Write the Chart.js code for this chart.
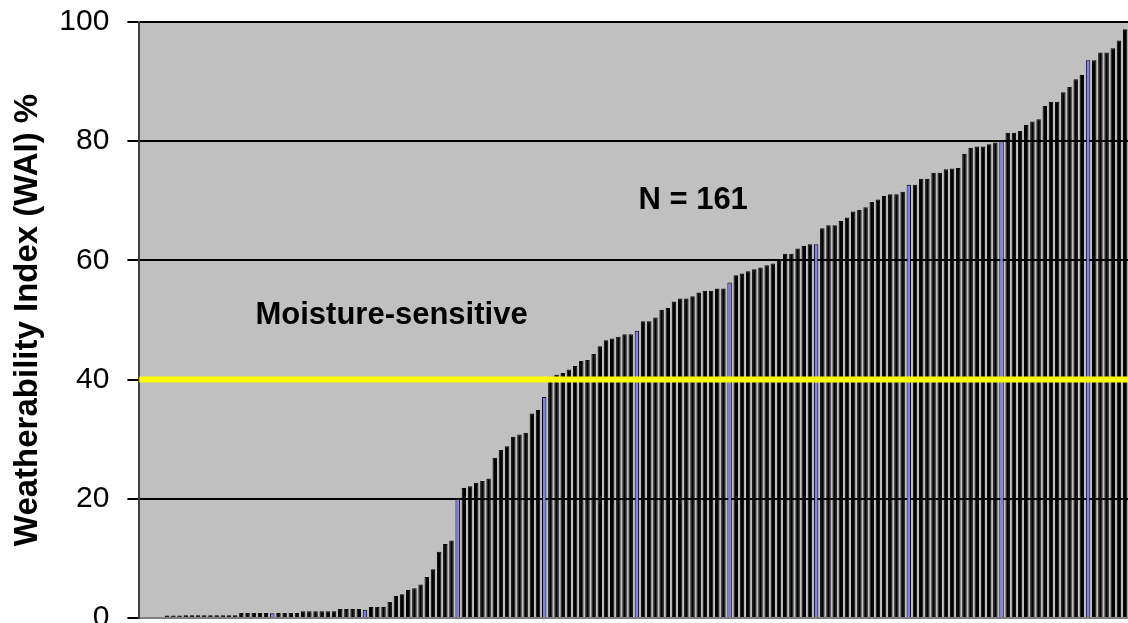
<!DOCTYPE html>
<html>
<head>
<meta charset="utf-8">
<script src="https://cdn.jsdelivr.net/npm/chart.js@4/dist/chart.umd.min.js"></script>
<style>
  html, body { margin: 0; padding: 0; background: #fff; overflow: hidden; }
  #wrap { width: 1128px; height: 623px; overflow: hidden; position: relative; }
  #waiChart { display: block; position: absolute; left: 0; top: -14px; }
</style>
</head>
<body>
<div id="wrap"><canvas id="waiChart" width="1140" height="668"></canvas></div>
<script>
// WAI values, sorted ascending (161 samples)
const wai = [
    0, 0, 0, 0, 0.4, 0.4, 0.4, 0.45, 0.45, 0.45,
    0.45, 0.45, 0.45, 0.45, 0.45, 0.45, 0.85, 0.85, 0.85, 0.85,
    0.85, 0.8, 0.85, 0.85, 0.85, 0.85, 1.15, 1.15, 1.15, 1.15,
    1.15, 1.15, 1.5, 1.5, 1.5, 1.5, 1.4, 1.85, 1.85, 1.85,
    2.7, 3.7, 4.0, 4.7, 5.0, 5.6, 6.9, 8.2, 11.1, 12.4,
    13.0, 20.0, 21.8, 22.1, 22.7, 23.0, 23.4, 26.9, 28.2, 28.8,
    30.4, 30.8, 31.1, 34.3, 34.9, 37.1, 39.7, 40.8, 41.1, 41.7,
    42.3, 43.1, 43.3, 44.3, 45.6, 46.6, 46.9, 47.2, 47.6, 47.6,
    48.2, 49.8, 49.8, 50.4, 51.7, 52.0, 53.1, 53.6, 53.6, 54.0,
    54.6, 54.9, 54.9, 55.3, 55.3, 56.3, 57.5, 57.8, 58.2, 58.5,
    58.8, 59.2, 59.5, 60.1, 61.1, 61.1, 62.0, 62.4, 62.7, 62.7,
    65.4, 65.9, 65.9, 66.6, 67.2, 68.2, 68.5, 68.9, 69.8, 70.2,
    70.8, 71.1, 71.1, 71.5, 72.7, 72.7, 73.7, 73.7, 74.7, 74.7,
    75.3, 75.4, 75.5, 77.9, 78.9, 79.1, 79.1, 79.5, 79.8, 80.0,
    81.4, 81.4, 81.7, 82.7, 83.3, 83.7, 85.9, 86.6, 86.6, 88.2,
    89.1, 90.4, 91.1, 93.6, 93.6, 94.9, 94.9, 95.6, 96.9, 98.8,
    99.6
];
const samples = wai.map((v, i) => String(i + 1));
// samples drawn in blue
const highlighted = [21, 36, 51, 65, 80, 95, 109, 124, 139, 153];
const threshold = 40;
const noteTexts = ['Moisture-sensitive', 'N = 161'];
const axisTitle = 'Weatherability Index (WAI) %';

const FONT = '"Liberation Sans", Arial, sans-serif';

const plotExtras = {
    id: 'plotExtras',
    beforeDraw(chart) {
        const { ctx, chartArea: a } = chart;
        ctx.save();
        ctx.fillStyle = '#c0c0c0';
        ctx.fillRect(a.left, a.top, a.right - a.left, a.bottom - a.top);
        ctx.restore();
    },
    afterDatasetsDraw(chart) {
        const { ctx, chartArea: a, scales: { x, y } } = chart;
        // moisture-sensitive limit
        const yy = y.getPixelForValue(threshold);
        ctx.save();
        ctx.strokeStyle = '#ffff00';
        ctx.lineWidth = 6;
        ctx.beginPath();
        ctx.moveTo(a.left, yy);
        ctx.lineTo(a.right, yy);
        ctx.stroke();

        // text notes, placed in data coordinates (category index, value)
        const places = [[40.3, 50.7], [89.1, 70.1]];
        ctx.fillStyle = '#000';
        ctx.font = 'bold 31px ' + FONT;
        ctx.textAlign = 'center';
        ctx.textBaseline = 'middle';
        noteTexts.forEach((t, k) => {
            ctx.fillText(t, x.getPixelForValue(places[k][0]), y.getPixelForValue(places[k][1]));
        });
        ctx.restore();
    }
};

const ctx = document.getElementById('waiChart').getContext('2d');
new Chart(ctx, {
    type: 'bar',
    data: {
        labels: samples,
        datasets: [{
            data: wai,
            backgroundColor: wai.map((v, i) => highlighted.includes(i) ? '#8080f0' : '#000000'),
            borderColor: '#000000',
            borderWidth: 1,
            barPercentage: 0.72,
            categoryPercentage: 1
        }]
    },
    options: {
        responsive: false,
        animation: false,
        layout: { padding: { top: 0, right: 5.6, bottom: 0, left: 0 } },
        plugins: {
            legend: { display: false },
            tooltip: { enabled: false }
        },
        scales: {
            x: {
                grid: { display: false },
                ticks: { display: false },
                border: { color: '#808080', width: 2 },
                afterFit: (s) => { s.height = 0; }
            },
            y: {
                min: 0,
                max: 100,
                ticks: {
                    stepSize: 20,
                    color: '#000',
                    padding: 18,
                    font: { family: FONT, size: 30 }
                },
                grid: { color: '#000', lineWidth: 2, tickLength: 12 },
                border: { color: '#404040', width: 2 },
                title: {
                    display: true,
                    text: axisTitle,
                    color: '#000',
                    padding: 8,
                    font: { family: FONT, size: 33, weight: 'bold' }
                },
                afterFit: (s) => { s.width = 139.4; }
            }
        }
    },
    plugins: [plotExtras]
});
</script>
</body>
</html>
